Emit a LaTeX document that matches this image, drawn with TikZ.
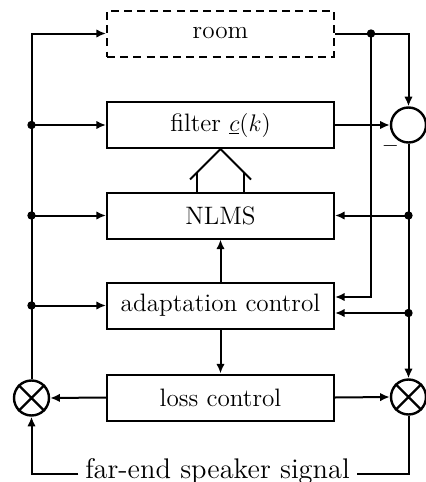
\documentclass[tikz,border=0pt]{standalone}
\usetikzlibrary{arrows.meta,calc}
\tikzset{
  blk/.style={draw, line width=1pt, minimum width=113.5pt, minimum height=23pt,
    inner sep=0pt, font=\fontsize{12.6}{15}\selectfont},
  roombox/.style={blk, dash pattern=on 4pt off 2.6pt},
  sumc/.style={draw, circle, line width=1.2pt, minimum size=17.5pt, inner sep=0pt},
  mult/.style={sumc},
  lbl/.style={font=\fontsize{14.2}{17}\selectfont, inner sep=3pt},
  dot/.style={fill, circle, minimum size=4.2pt, inner sep=0pt},
}
\begin{document}
\begin{tikzpicture}[x=0.5pt, y=-0.5pt, line width=1pt,
  >={Latex[length=4.8pt,width=4.2pt]}]
\useasboundingbox (0,0) rectangle (425,482);

% blocks
\node[roombox] (room)   at (220.5,33.5)  {room};
\node[blk]     (filter) at (220.5,125)   {filter $\underline{c}(k)$};
\node[blk]     (nlms)   at (220.5,215.5) {NLMS};
\node[blk]     (adapt)  at (220.5,305.5) {adaptation control};
\node[blk]     (loss)   at (220.5,397.5) {loss control};

% summation point and multipliers
\node[sumc] (sub) at (408.5,125) {};
\node[mult] (ml)  at (31.5,398)  {};
\node[mult] (mr)  at (408.5,397) {};
\draw[line width=1.2pt] (ml.north west) -- (ml.south east) (ml.north east) -- (ml.south west);
\draw[line width=1.2pt] (mr.north west) -- (mr.south east) (mr.north east) -- (mr.south west);
\node[font=\fontsize{11}{13}\selectfont, inner sep=0pt] (minus) at (390.5,146) {$-$};

% far-end signal label
\node[lbl] (far) at (217.5,471) {far-end speaker signal};

% junction points
\node[dot] (jf) at (ml.north |- filter.west) {};
\node[dot] (jn) at (ml.north |- nlms.west)   {};
\node[dot] (ja) at (ml.north |- adapt.west)  {};
\node[dot] (jr) at (371,33.5) {};
\node[dot] (ke) at (sub.south |- nlms.east)  {};
\node[dot] (kf) at (408.5,313) {};

% loudspeaker path on the left
\draw[->] (ml.north) |- (room.west);
\draw[->] (jf.center) -- (filter.west);
\draw[->] (jn.center) -- (nlms.west);
\draw[->] (ja.center) -- (adapt.west);

% echo path and error signal
\draw[->] (room.east) -| (sub.north);
\draw[->] (filter.east) -- (sub.west);
\draw[->] (jr.center) |- ($(adapt.east)+(0,-8.5)$);
\draw[->] (sub.south) -- (mr.north);
\draw[->] (ke.center) -- (nlms.east);
\draw[->] (kf.center) -- (kf -| adapt.east);

% control flow
\draw[->] (adapt.north) -- (nlms.south);
\draw[->] (adapt.south) -- (loss.north);
\draw[->] (loss.west) -- (ml.east);
\draw[->] (loss.east) -- (mr.west);

% coefficient update (hollow wide arrow)
\draw ($(filter.south)+(-30.5,30.5)$) -- (filter.south) -- ($(filter.south)+(30.5,30.5)$);
\draw ($(nlms.north)+(-23.5,0)$) -- ($(filter.south)+(-23.5,23.5)$);
\draw ($(nlms.north)+(23.5,0)$) -- ($(filter.south)+(23.5,23.5)$);

% far-end signal
\draw[->] (far.west |- 0,474) -| (ml.south);
\draw (mr.south) |- (far.east |- 0,474);
\end{tikzpicture}
\end{document}
